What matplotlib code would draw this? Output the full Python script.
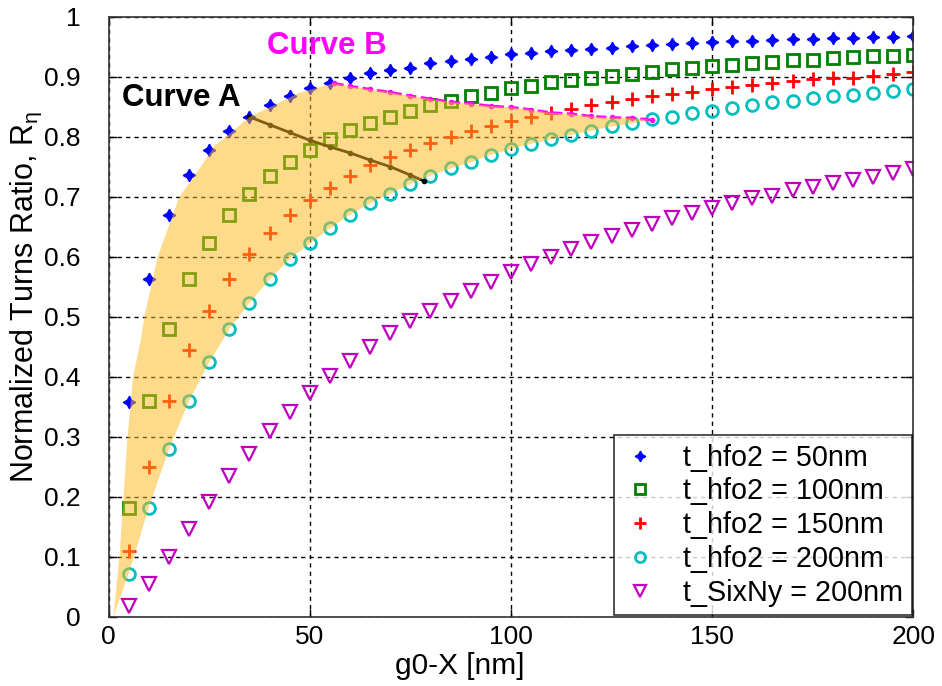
import matplotlib
matplotlib.use("Agg")
import matplotlib.pyplot as plt

# readings taken off the reference chart
gap_nm = list(range(5, 205, 5))

r_hfo2_50 = [0.358, 0.562, 0.669, 0.736, 0.777, 0.810, 0.833, 0.852, 0.867, 0.881,
             0.890, 0.897, 0.906, 0.911, 0.915, 0.922, 0.926, 0.930, 0.933, 0.937,
             0.940, 0.942, 0.945, 0.946, 0.948, 0.951, 0.952, 0.955, 0.956, 0.957,
             0.959, 0.960, 0.961, 0.962, 0.963, 0.964, 0.965, 0.966, 0.966, 0.967]
r_hfo2_100 = [0.182, 0.360, 0.479, 0.562, 0.623, 0.670, 0.705, 0.735, 0.757, 0.778,
              0.796, 0.811, 0.823, 0.832, 0.842, 0.853, 0.860, 0.867, 0.873, 0.881,
              0.885, 0.891, 0.895, 0.898, 0.901, 0.905, 0.908, 0.912, 0.914, 0.917,
              0.920, 0.922, 0.925, 0.927, 0.928, 0.931, 0.932, 0.934, 0.935, 0.936]
r_hfo2_150 = [0.110, 0.250, 0.360, 0.445, 0.510, 0.562, 0.605, 0.639, 0.670, 0.695,
              0.714, 0.735, 0.752, 0.766, 0.777, 0.789, 0.800, 0.810, 0.818, 0.826,
              0.833, 0.839, 0.846, 0.853, 0.857, 0.863, 0.867, 0.871, 0.875, 0.879,
              0.882, 0.886, 0.890, 0.893, 0.896, 0.897, 0.898, 0.901, 0.905, 0.907]
r_hfo2_200 = [0.072, 0.182, 0.279, 0.360, 0.424, 0.479, 0.523, 0.562, 0.596, 0.622,
              0.647, 0.670, 0.689, 0.705, 0.721, 0.735, 0.747, 0.757, 0.770, 0.779,
              0.788, 0.796, 0.803, 0.810, 0.817, 0.822, 0.829, 0.833, 0.839, 0.843,
              0.847, 0.853, 0.857, 0.860, 0.864, 0.868, 0.870, 0.873, 0.876, 0.879]
r_sixny_200 = [0.018, 0.055, 0.100, 0.146, 0.192, 0.235, 0.272, 0.310, 0.341, 0.372,
               0.401, 0.426, 0.450, 0.472, 0.493, 0.510, 0.526, 0.543, 0.558, 0.575,
               0.587, 0.599, 0.612, 0.625, 0.635, 0.645, 0.655, 0.664, 0.672, 0.681,
               0.689, 0.697, 0.701, 0.711, 0.716, 0.722, 0.728, 0.732, 0.740, 0.746]

labels = ["t_hfo2 = 50nm", "t_hfo2 = 100nm", "t_hfo2 = 150nm",
          "t_hfo2 = 200nm", "t_SixNy = 200nm"]

curve_a_x = [35, 40, 45, 50, 55, 60, 65, 70, 75, 78.4]
curve_a_y = [0.833, 0.820, 0.807, 0.794, 0.783, 0.773, 0.761, 0.750, 0.736, 0.726]

curve_b_x = [55.9, 60, 65, 70, 75, 80, 85, 90, 95, 100, 105, 110, 115, 120, 125, 130, 135]
curve_b_y = [0.889, 0.884, 0.879, 0.874, 0.868, 0.863, 0.858, 0.855, 0.851, 0.849,
             0.845, 0.840, 0.838, 0.834, 0.832, 0.831, 0.828]

# left/upper edge of the shaded region
band_x = [1.2, 2.7, 3.7, 4.7, 6.1, 8.0, 8.9, 12.2, 17.6, 21.5, 26.4, 31.0, 35.0, 41.0, 47.0, 50.0]
band_y = [0.0, 0.1, 0.2, 0.3, 0.4, 0.461, 0.5, 0.6, 0.7, 0.736, 0.785, 0.81, 0.833, 0.852, 0.872, 0.878]

plt.rcParams['font.family'] = ['Liberation Sans', 'DejaVu Sans']

fig = plt.figure(figsize=(9.42, 6.86), dpi=100)
ax = fig.add_axes([0.1153, 0.101, 0.8542, 0.8747])

ax.plot(gap_nm, r_hfo2_50, ls='none', marker=(4, 1, 0), ms=9, color='#0000ff', label=labels[0])
ax.plot(gap_nm, r_hfo2_100, ls='none', marker='s', ms=9, mfc='none', mec='#008000', mew=2, label=labels[1])
ax.plot(gap_nm, r_hfo2_150, ls='none', marker='+', ms=10, mec='#ff0000', mew=2, label=labels[2])
ax.plot(gap_nm, r_hfo2_200, ls='none', marker='o', ms=8.5, mfc='none', mec='#00bfbf', mew=2, label=labels[3])
ax.plot(gap_nm, r_sixny_200, ls='none', marker='v', ms=10.5, mfc='none', mec='#bf00bf', mew=1.6, label=labels[4])

ax.plot(curve_a_x, curve_a_y, '-', color='black', lw=2, marker='.', ms=6, zorder=3)
ax.plot(curve_b_x, curve_b_y, '--', color='#ff00ff', lw=2, marker='.', ms=6, zorder=3)

poly_x = band_x + curve_b_x + gap_nm[:27][::-1] + [band_x[0]]
poly_y = band_y + curve_b_y + r_hfo2_200[:27][::-1] + [band_y[0]]
ax.fill(poly_x, poly_y, color='#fcba22', alpha=0.52, lw=0, zorder=4)

ax.text(3.3, 0.864, "Curve A", fontsize=22.5, fontweight='bold', color='black', va='center', zorder=6)
ax.text(39.4, 0.951, "Curve B", fontsize=22.5, fontweight='bold', color='#ff00ff', va='center', zorder=6)

ax.set_xlim(0, 200)
ax.set_ylim(0, 1)
ax.set_xticks([0, 50, 100, 150, 200])
ax.set_yticks([i / 10 for i in range(11)])
ax.set_yticklabels(['0', '0.1', '0.2', '0.3', '0.4', '0.5', '0.6', '0.7', '0.8', '0.9', '1'])
ax.tick_params(direction='in', length=6, top=True, right=True, labelsize=19, width=1)
ax.tick_params(axis='y', pad=20)
ax.tick_params(axis='x', pad=6)
ax.grid(True, color='black', ls=(0, (3, 3)), lw=1)
ax.set_axisbelow(True)
for s in ax.spines.values():
    s.set_linewidth(1.2)
    s.set_color('#333333')

ax.set_xlabel("g0-X [nm]", fontsize=21.5, labelpad=1)
ax.xaxis.set_label_coords(0.437, -0.058)
ax.set_ylabel(r"Normalized Turns Ratio, R$_\mathregular{\eta}$", fontsize=22)
ax.yaxis.set_label_coords(-0.08, 0.533)

leg = ax.legend(loc='lower right', fontsize=20.7, frameon=True, fancybox=False,
                edgecolor='black', borderaxespad=0.05, labelspacing=0.2,
                handlelength=1.2, handletextpad=0.9, borderpad=0.3, markerscale=0.85)
leg.get_frame().set_linewidth(1.2)
leg.set_zorder(7)

fig.savefig("out.png", dpi=100)
